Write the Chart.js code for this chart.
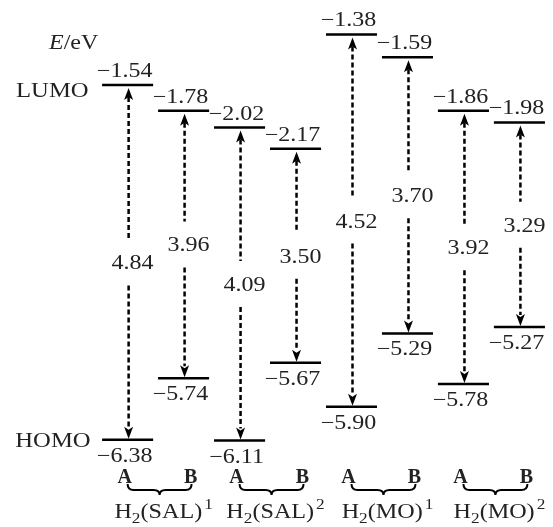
<!DOCTYPE html>
<html>
<head>
<meta charset="utf-8">
<script src="https://cdn.jsdelivr.net/npm/chart.js@4.4.0/dist/chart.umd.min.js"></script>
<style>
  body { margin: 0; background: #fff; }
  #wrap { width: 553px; height: 527px; }
</style>
</head>
<body>
<div id="wrap"><canvas id="myChart"></canvas></div>
<script>
const columns = ["A", "B", "A", "B", "A", "B", "A", "B"];
const lumoEnergy = [-1.54, -1.78, -2.02, -2.17, -1.38, -1.59, -1.86, -1.98];
const homoEnergy = [-6.38, -5.74, -6.11, -5.67, -5.9, -5.29, -5.78, -5.27];
const gapEnergy = [4.84, 3.96, 4.09, 3.5, 4.52, 3.7, 3.92, 3.29];
// the figure is not to scale: height of each level on its energy axis
const lumoLevel = [-1.54, -1.89, -2.12, -2.41, -0.85, -1.16, -1.89, -2.05];
const homoLevel = [-6.38, -5.54, -6.39, -5.33, -5.93, -4.93, -5.62, -4.84];
const groups = ["SAL", "SAL", "MO", "MO"];
const groupSup = ["1", "2", "1", "2"];

const SERIF = '"Liberation Serif", "Times New Roman", serif';
const HALF = 0.456;

function fmt(v) {
  return (v < 0 ? "\u2212" : "") + Math.abs(v).toFixed(2);
}

// text stretched a little in x, like the original figure
function txt(ctx, s, x, y, font, align, sx) {
  ctx.save();
  ctx.font = font;
  ctx.textBaseline = "alphabetic";
  ctx.textAlign = "left";
  let w = ctx.measureText(s).width * sx;
  let x0 = x;
  if (align === "center") x0 = x - w / 2;
  if (align === "right") x0 = x - w;
  ctx.translate(x0, y);
  ctx.scale(sx, 1);
  ctx.fillText(s, 0, 0);
  ctx.restore();
  return w;
}

function arrow(ctx, x, yTop, yBot, yMid) {
  ctx.save();
  ctx.strokeStyle = "#000";
  ctx.fillStyle = "#000";
  ctx.lineWidth = 2.5;
  ctx.setLineDash([5, 3]);
  ctx.beginPath();
  ctx.moveTo(x, yTop + 12);
  ctx.lineTo(x, yMid - 23);
  ctx.moveTo(x, yMid + 23);
  ctx.lineTo(x, yBot - 12);
  ctx.stroke();
  ctx.setLineDash([]);
  // heads
  ctx.beginPath();
  ctx.moveTo(x, yTop + 3);
  ctx.lineTo(x - 4.5, yTop + 15);
  ctx.lineTo(x, yTop + 12);
  ctx.lineTo(x + 4.5, yTop + 15);
  ctx.closePath();
  ctx.fill();
  ctx.beginPath();
  ctx.moveTo(x, yBot - 1);
  ctx.lineTo(x - 4.5, yBot - 13);
  ctx.lineTo(x, yBot - 10);
  ctx.lineTo(x + 4.5, yBot - 13);
  ctx.closePath();
  ctx.fill();
  ctx.restore();
}

function brace(ctx, xa, xb, y) {
  const mid = (xa + xb) / 2;
  ctx.save();
  ctx.lineWidth = 2;
  ctx.strokeStyle = "#000";
  ctx.beginPath();
  ctx.moveTo(xa, y - 6);
  ctx.quadraticCurveTo(xa, y, xa + 6, y);
  ctx.lineTo(mid - 6, y);
  ctx.quadraticCurveTo(mid, y, mid, y + 5);
  ctx.quadraticCurveTo(mid, y, mid + 6, y);
  ctx.lineTo(xb - 6, y);
  ctx.quadraticCurveTo(xb, y, xb, y - 6);
  ctx.stroke();
  ctx.restore();
}

const datasets = [];
for (let i = 0; i < columns.length; i++) {
  for (let lv of [lumoLevel[i], homoLevel[i]]) {
    datasets.push({
      data: [{ x: i - HALF, y: lv }, { x: i + HALF, y: lv }],
      borderColor: "#000",
      borderWidth: 2.5,
      pointRadius: 0,
      fill: false,
    });
  }
}

const diagram = {
  id: "diagram",
  beforeDraw(chart) {
    const c = chart.ctx;
    c.save();
    c.fillStyle = "#fff";
    c.fillRect(0, 0, chart.width, chart.height);
    c.restore();
  },
  afterDatasetsDraw(chart) {
    const ctx = chart.ctx;
    const xs = chart.scales.x;
    const ys = chart.scales.y;
    ctx.fillStyle = "#222";
    const num = "20px " + SERIF;

    for (let i = 0; i < columns.length; i++) {
      const x = xs.getPixelForValue(i);
      const yL = ys.getPixelForValue(lumoLevel[i]);
      const yH = ys.getPixelForValue(homoLevel[i]);
      const mid = (yL + yH) / 2;
      arrow(ctx, x + 1, yL, yH, mid);
      txt(ctx, fmt(lumoEnergy[i]), x - 3, yL - 8, num, "center", 1.2);
      txt(ctx, fmt(homoEnergy[i]), x - 3, yH + 22, num, "center", 1.2);
      txt(ctx, gapEnergy[i].toFixed(2), x + 5, mid + 7, num, "center", 1.2);
    }

    // axis name and level names
    const x0 = xs.getPixelForValue(0);
    let w = txt(ctx, "E", 49, 49, "italic 20px " + SERIF, "left", 1.2);
    txt(ctx, "/eV", 49 + w, 49, "20px " + SERIF, "left", 1.2);
    txt(ctx, "LUMO", x0 - 39, ys.getPixelForValue(lumoLevel[0]) + 12, "22px " + SERIF, "right", 1.12);
    txt(ctx, "HOMO", x0 - 37, ys.getPixelForValue(homoLevel[0]) + 7, "22px " + SERIF, "right", 1.12);

    // A / B marks, braces and compound names
    for (let g = 0; g < groups.length; g++) {
      const xa = xs.getPixelForValue(2 * g) - 3;
      const xb = xs.getPixelForValue(2 * g + 1) + 7;
      txt(ctx, columns[2 * g], xa, 483, "bold 20px " + SERIF, "center", 1.0);
      txt(ctx, columns[2 * g + 1], xb, 483, "bold 20px " + SERIF, "center", 1.0);
      brace(ctx, xa + 3, xb + 1, 490);

      const big = "21px " + SERIF;
      const small = "15px " + SERIF;
      const sx = 1.15;
      ctx.save();
      ctx.font = big;
      let wH = ctx.measureText("H").width * sx;
      let wP = ctx.measureText("(" + groups[g] + ")").width * sx;
      ctx.font = small;
      let w2 = ctx.measureText("2").width * sx;
      let wS = ctx.measureText(groupSup[g]).width * sx;
      ctx.restore();
      const total = wH + w2 + wP + wS + 2;
      let cx = (xa + xb) / 2 + 6 - total / 2;
      const base = 518;
      cx += txt(ctx, "H", cx, base, big, "left", sx);
      cx += txt(ctx, "2", cx, base + 5, small, "left", sx);
      cx += txt(ctx, "(" + groups[g] + ")", cx, base, big, "left", sx);
      txt(ctx, groupSup[g], cx + 2, base - 9, small, "left", sx);
    }
  },
};

const ctx = document.getElementById("myChart").getContext("2d");
const myChart = new Chart(ctx, {
  type: "line",
  data: { datasets: datasets },
  options: {
    responsive: true,
    maintainAspectRatio: false,
    animation: false,
    layout: { padding: 0 },
    plugins: { legend: { display: false }, tooltip: { enabled: false } },
    scales: {
      x: { type: "linear", min: -2.28, max: 7.6, display: false },
      y: { type: "linear", min: -7.57, max: -0.38, display: false },
    },
  },
  plugins: [diagram],
});
</script>
</body>
</html>
